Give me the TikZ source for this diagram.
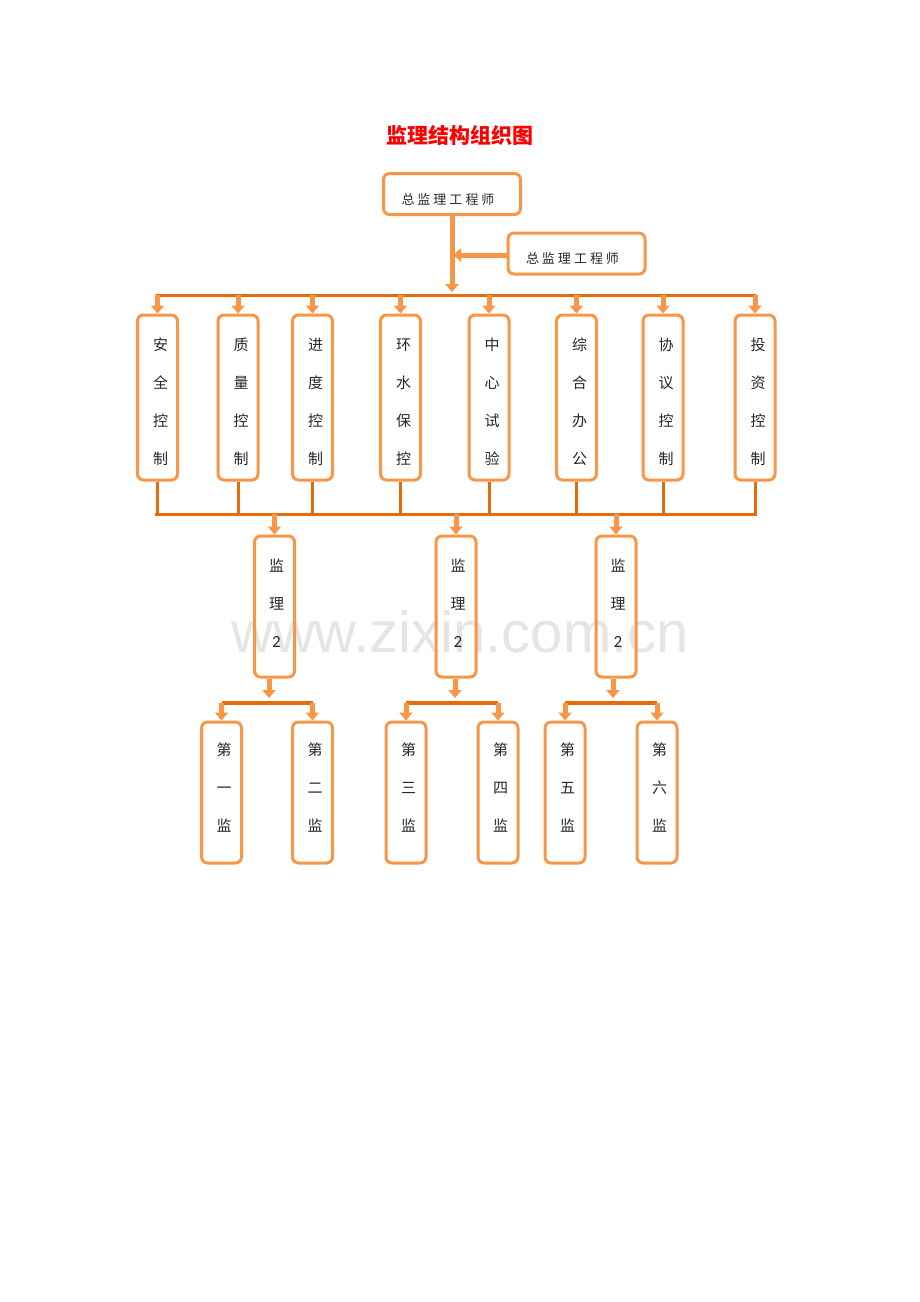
\documentclass[tikz,border=0pt]{standalone}
\usepackage{fontspec}
\newfontfamily\cjk{Noto Sans CJK SC}
\newfontfamily\carl{Carlito}
\newfontfamily\wmf{Liberation Sans}
\usetikzlibrary{arrows.meta}
\definecolor{boxc}{HTML}{F79646}
\definecolor{busc}{HTML}{E46C0A}
\begin{document}
\begin{tikzpicture}[x=1pt,y=-1pt,
 box/.style={draw=boxc,line width=3pt,rounded corners=6pt,minimum width=40pt,inner sep=0pt},
 tall/.style={box,minimum height=165pt},
 mid/.style={box,minimum height=141pt},
 hbox/.style={box,minimum width=137pt,minimum height=41pt},
 vt/.style={font=\cjk\fontsize{15}{38}\selectfont,align=center,inner sep=0pt,text=black!85},
 ht/.style={font=\cjk\fontsize{13}{15}\selectfont,inner sep=0pt,text=black!85},
 arr/.style={draw=boxc,line width=5pt,-{Triangle[width=13pt,length=8pt]}},
 bus/.style={draw=busc,line width=3pt},
 bar/.style={draw=busc,line width=4pt}]
\useasboundingbox (0,0) rectangle (920,1302);
% watermark
\node[anchor=base,text=gray!20,font=\wmf\fontsize{58}{58}\selectfont,inner sep=0pt] (wm) at (460,652) {www.zixin.com.cn};
% title
\node[font=\cjk\bfseries\fontsize{21}{21}\selectfont,text=red,inner sep=0pt] (title) at (460,135) {监理结构组织图};
% top boxes
\node[hbox] (gm) at (452,194) {};
\node[ht] (gmt) at (448,200) {总\hspace{3pt}监\hspace{3pt}理\hspace{3pt}工\hspace{3pt}程\hspace{3pt}师};
\node[hbox] (dp) at (576.5,253.5) {};
\node[ht] (dpt) at (572.5,259) {总\hspace{3pt}监\hspace{3pt}理\hspace{3pt}工\hspace{3pt}程\hspace{3pt}师};
\coordinate (gj) at (452,292);
\coordinate (dj) at (453,255);
\draw[arr] (gm.south) -- (gj);
\draw[arr] (dp.west |- dj) -- (dj);
% top row
\coordinate (tbL) at (156,295);
\coordinate (tbR) at (756,295);
\coordinate (bbL) at (155,514);
\coordinate (bbR) at (757,514);
\draw[bus] (tbL) -- (tbR);
\draw[bus] (bbL) -- (bbR);
\foreach \n/\x/\t in {t1/157.5/安\\全\\控\\制, t2/238/质\\量\\控\\制, t3/312.5/进\\度\\控\\制, t4/400.5/环\\水\\保\\控, t5/489/中\\心\\试\\验, t6/576.5/综\\合\\办\\公, t7/663/协\\议\\控\\制, t8/755/投\\资\\控\\制}{
  \node[tall] (\n) at (\x,397.5) {};
  \node[vt] (\n txt) at (\x+3,402) {\t};
  \draw[arr] (\n.north |- tbL) -- (\n.north);
  \draw[bus] (\n.south) -- (\n.south |- bbL);
}
% middle row
\foreach \n/\x/\j in {mA/274.5/269, mB/456/455, mC/616/613}{
  \node[mid] (\n) at (\x,606.5) {};
  \node[vt] (\n txt) at (\x+2,603) {监\\理\\{\carl\fontsize{17}{38}\selectfont 2}};
  \draw[arr] (\n.north |- bbL) -- (\n.north);
  \coordinate (\n j) at (\j,698);
  \draw[arr] (\n.south -| \n j) -- (\n j);
}
% bottom row
\foreach \n/\x/\t in {f1/221.5/第\\一\\监, f2/312.5/第\\二\\监, f3/406/第\\三\\监, f4/498/第\\四\\监, f5/565/第\\五\\监, f6/657/第\\六\\监}{
  \node[mid] (\n) at (\x,792.5) {};
  \node[vt] (\n txt) at (\x+2.5,788) {\t};
}
\coordinate (yb) at (0,703);
\foreach \a/\b in {f1/f2, f3/f4, f5/f6}{
  \draw[bar] (\a.north |- yb) -- (\b.north |- yb);
  \draw[arr] (\a.north |- yb) -- (\a.north);
  \draw[arr] (\b.north |- yb) -- (\b.north);
}
\end{tikzpicture}
\end{document}
